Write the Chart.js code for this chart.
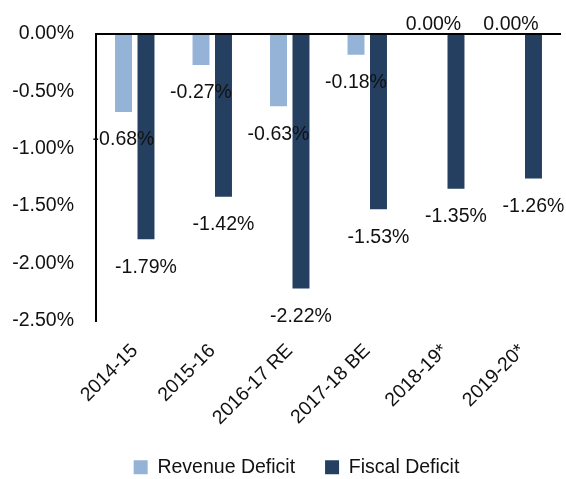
<!DOCTYPE html>
<html>
<head>
<meta charset="utf-8">
<script src="https://cdn.jsdelivr.net/npm/chart.js@4/dist/chart.umd.min.js"></script>
<style>
html,body{margin:0;padding:0;background:#fff;}
#wrap{width:566px;height:479px;}
</style>
</head>
<body>
<div id="wrap"><canvas id="c" width="566" height="479"></canvas></div>
<script>
const categories = ["2014-15", "2015-16", "2016-17 RE", "2017-18 BE", "2018-19*", "2019-20*"];
const revenueDeficit = [-0.68, -0.27, -0.63, -0.18, 0.00, 0.00];
const fiscalDeficit = [-1.79, -1.42, -2.22, -1.53, -1.35, -1.26];
const yTicks = [0, -0.5, -1.0, -1.5, -2.0, -2.5];

const FONT = "'Liberation Sans', Arial, sans-serif";
const FS = 19.5;

const labelPlugin = {
  id: 'valueLabels',
  afterLayout(chart) {
    if (chart.legend) { chart.legend.left += 16; chart.legend.right += 16; }
  },
  afterDatasetsDraw(chart) {
    const ctx = chart.ctx;
    ctx.save();
    ctx.font = FS + "px " + FONT;
    ctx.fillStyle = "#111";
    ctx.textAlign = "center";
    ctx.textBaseline = "middle";
    chart.data.datasets.forEach((ds, di) => {
      const meta = chart.getDatasetMeta(di);
      meta.data.forEach((el, i) => {
        const v = ds.data[i];
        const txt = v.toFixed(2) + "%";
        const y = v < 0 ? el.y + 28 : el.y - 9;
        ctx.fillText(txt, el.x, y);
      });
    });
    ctx.restore();
  }
};

new Chart(document.getElementById('c'), {
  type: 'bar',
  data: {
    labels: categories,
    datasets: [
      { label: "Revenue Deficit", data: revenueDeficit, backgroundColor: "#95B3D7",
        categoryPercentage: 0.58, barPercentage: 0.755 },
      { label: "Fiscal Deficit", data: fiscalDeficit, backgroundColor: "#243F60",
        categoryPercentage: 0.58, barPercentage: 0.755 }
    ]
  },
  options: {
    responsive: false,
    animation: false,
    layout: { padding: { left: 0, right: 5, top: 34, bottom: -8 } },
    plugins: {
      legend: {
        position: 'bottom',
        labels: {
          font: { size: FS, family: FONT },
          color: "#111",
          boxWidth: 14, boxHeight: 14,
          padding: 30
        }
      },
      tooltip: { enabled: false }
    },
    scales: {
      x: {
        grid: { display: false },
        border: { display: false },
        ticks: {
          font: { size: FS, family: FONT },
          color: "#111",
          minRotation: 45, maxRotation: 45,
          padding: 11
        },
        afterFit(scale) { scale.height = 107; }
      },
      y: {
        min: -2.5, max: 0,
        afterBuildTicks(scale) { scale.ticks = yTicks.map(v => ({ value: v })); },
        afterFit(scale) { scale.width = 96; },
        grid: {
          drawTicks: false,
          color: ctx => (ctx.tick && ctx.tick.value === 0) ? "#000" : "rgba(0,0,0,0)",
          lineWidth: ctx => (ctx.tick && ctx.tick.value === 0) ? 2 : 0
        },
        border: { display: true, color: "#000", width: 2 },
        ticks: {
          font: { size: FS, family: FONT },
          color: "#111",
          padding: 22,
          callback: v => Number(v).toFixed(2) + "%"
        }
      }
    }
  },
  plugins: [labelPlugin]
});
</script>
</body>
</html>
